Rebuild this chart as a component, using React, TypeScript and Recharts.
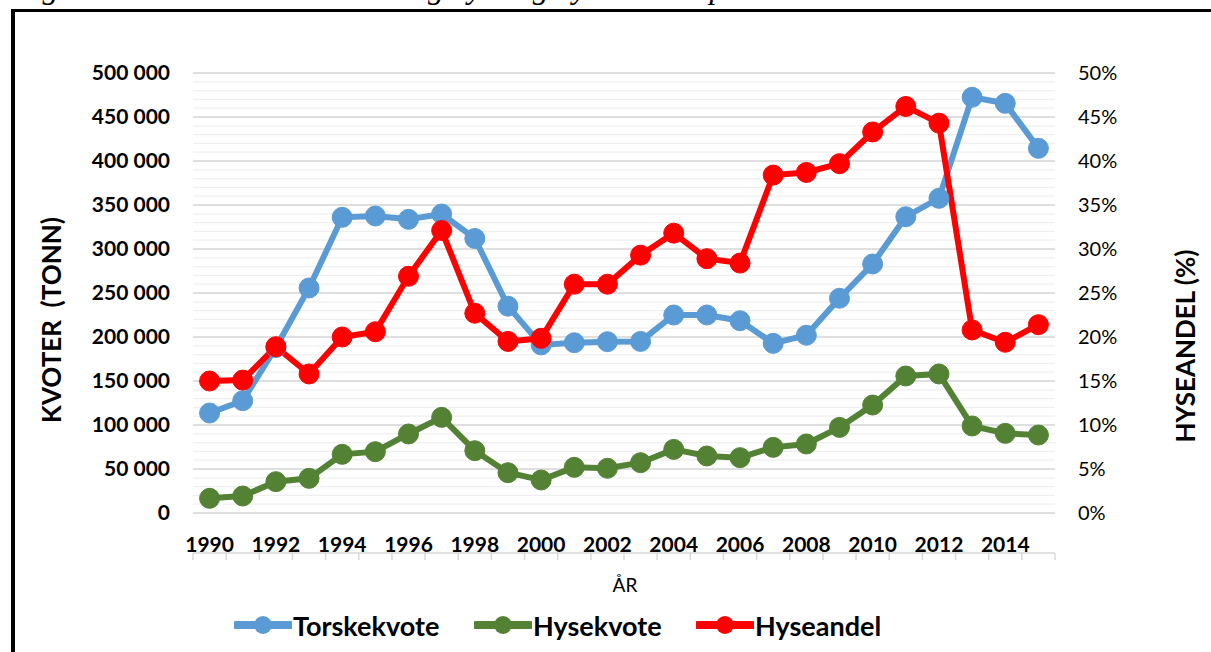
import React from "react";
import { LineChart, Line, XAxis, YAxis, CartesianGrid } from "recharts";

const years = [
  1990, 1991, 1992, 1993, 1994, 1995, 1996, 1997, 1998, 1999, 2000, 2001, 2002,
  2003, 2004, 2005, 2006, 2007, 2008, 2009, 2010, 2011, 2012, 2013, 2014, 2015,
];

// tonn
const torskekvote = [
  113600, 127600, 188000, 255700, 336000, 337500, 333700, 339800, 312000,
  235000, 191000, 193500, 194700, 195000, 225000, 225000, 218500, 192800,
  202000, 244000, 283000, 336700, 357600, 472400, 465500, 414400,
];

const hysekvote = [
  16700, 19300, 35600, 39400, 66700, 69700, 89800, 108700, 70800, 45800, 37500,
  51900, 50800, 57200, 72300, 64800, 62900, 74600, 78400, 97300, 122700, 155700,
  158000, 98900, 90500, 88600,
];

// prosent
const hyseandel = [
  15.0, 15.1, 18.9, 15.8, 20.0, 20.6, 26.9, 32.1, 22.7, 19.5, 19.85, 26.0, 26.0,
  29.3, 31.8, 28.9, 28.4, 38.4, 38.7, 39.7, 43.3, 46.2, 44.3, 20.8, 19.4, 21.4,
];

const leftTicks = [0, 50000, 100000, 150000, 200000, 250000, 300000, 350000, 400000, 450000, 500000];
const rightTicks = [0, 5, 10, 15, 20, 25, 30, 35, 40, 45, 50];
const yearLabels = [1990, 1992, 1994, 1996, 1998, 2000, 2002, 2004, 2006, 2008, 2010, 2012, 2014];

const seriesNames = ["Torskekvote", "Hysekvote", "Hyseandel"];
const colors = ["#5B9BD5", "#548235", "#FF0000"];

const data = years.map((year, i) => ({
  year,
  torsk: torskekvote[i],
  hyse: hysekvote[i],
  andel: hyseandel[i],
}));

// tick marks sit between the years, grid has minor lines every 10 000
const boundaries = [...years.map((y) => y - 0.5), 2015.5];
const minorTicks = Array.from({ length: 51 }, (_, i) => i * 10000);

const FONT = "Lato, 'Open Sans', sans-serif";

const fmtTonn = (v: number) =>
  v === 0 ? "0" : `${Math.floor(v / 1000)} ${String(v % 1000).padStart(3, "0")}`;

function YearTick(props: any) {
  const { x, y, payload } = props;
  return (
    <text x={x} y={y + 39} textAnchor="middle" fontFamily={FONT} fontWeight={700} fontSize={21} fill="#000">
      {payload.value}
    </text>
  );
}

function LegendItem({ name, color, left }: { name: string; color: string; left: number }) {
  return (
    <div style={{ position: "absolute", left, top: 610, height: 30, display: "flex", alignItems: "center" }}>
      <svg width={58} height={30}>
        <line x1={2} y1={15} x2={56} y2={15} stroke={color} strokeWidth={8} strokeLinecap="round" />
        <circle cx={29} cy={15} r={9} fill={color} />
      </svg>
      <span style={{ fontFamily: FONT, fontWeight: 700, fontSize: 27, color: "#000", marginLeft: 1 }}>{name}</span>
    </div>
  );
}

export default function App() {
  return (
    <div style={{ position: "absolute", left: 0, top: 0, width: 1211, height: 652, overflow: "hidden", background: "#fff" }}>
      <div
        style={{
          position: "absolute",
          left: 14,
          top: -29,
          fontFamily: "'Liberation Serif', serif",
          fontStyle: "italic",
          fontSize: 32,
          lineHeight: "32px",
          whiteSpace: "nowrap",
        }}
      >
        Figur 3. Totale kvoter av torsk og hyse og hyseandel i perioden 1990 til 2015
      </div>
      <div
        style={{
          position: "absolute",
          left: 11,
          top: 9,
          width: 1400,
          height: 800,
          borderLeft: "4px solid #000",
          borderTop: "3px solid #000",
          background: "#fff",
        }}
      />

      <div style={{ position: "absolute", left: 0, top: 0 }}>
        <LineChart width={1211} height={652} data={data} margin={{ top: 73, right: 36, bottom: 91, left: 0 }}>
          <CartesianGrid
            xAxisId="marks"
            yAxisId="left"
            vertical={false}
            horizontalValues={minorTicks}
            stroke="#efefef"
            strokeWidth={1.3}
          />
          <CartesianGrid xAxisId="marks" yAxisId="left" vertical={false} stroke="#d9d9d9" strokeWidth={1.5} />

          <XAxis
            xAxisId="marks"
            dataKey="year"
            type="number"
            domain={[1989.5, 2015.5]}
            ticks={boundaries}
            interval={0}
            tickFormatter={() => ""}
            tickSize={7}
            tickLine={{ stroke: "#d9d9d9", strokeWidth: 1.5 }}
            axisLine={{ stroke: "#d9d9d9", strokeWidth: 1.5 }}
            height={8}
          />
          <XAxis
            xAxisId="labels"
            dataKey="year"
            type="number"
            domain={[1989.5, 2015.5]}
            ticks={yearLabels}
            interval={0}
            axisLine={false}
            tickLine={false}
            tickSize={0}
            tickMargin={0}
            height={40}
            tick={<YearTick />}
            label={{
              content: () => (
                <text x={625} y={592} textAnchor="middle" fontFamily={FONT} fontSize={19} fill="#000">
                  ÅR
                </text>
              ),
            }}
          />

          <YAxis
            yAxisId="left"
            domain={[0, 500000]}
            ticks={leftTicks}
            interval={0}
            width={193}
            axisLine={false}
            tickLine={false}
            tickSize={0}
            tickMargin={23}
            tickFormatter={fmtTonn}
            tick={{ fontFamily: FONT, fontWeight: 700, fontSize: 21, fill: "#000" }}
            label={{
              content: () => (
                <text
                  x={51}
                  y={320}
                  transform="rotate(-90 51 320)"
                  textAnchor="middle"
                  dominantBaseline="central"
                  fontFamily={FONT}
                  fontWeight={700}
                  fontSize={26}
                  fill="#000"
                  style={{ whiteSpace: "pre" }}
                >
                  KVOTER  (TONN)
                </text>
              ),
            }}
          />
          <YAxis
            yAxisId="right"
            orientation="right"
            domain={[0, 50]}
            ticks={rightTicks}
            interval={0}
            width={120}
            axisLine={false}
            tickLine={false}
            tickSize={0}
            tickMargin={23}
            tickFormatter={(v: number) => `${v}%`}
            tick={{ fontFamily: FONT, fontSize: 20, fill: "#000" }}
            label={{
              content: () => (
                <text
                  x={1185}
                  y={346}
                  transform="rotate(-90 1185 346)"
                  textAnchor="middle"
                  dominantBaseline="central"
                  fontFamily={FONT}
                  fontWeight={700}
                  fontSize={26}
                  fill="#000"
                >
                  HYSEANDEL (%)
                </text>
              ),
            }}
          />

          <Line
            xAxisId="labels"
            yAxisId="left"
            dataKey="torsk"
            name={seriesNames[0]}
            stroke={colors[0]}
            strokeWidth={6}
            dot={{ r: 10, fill: colors[0], stroke: colors[0], strokeWidth: 1 }}
            isAnimationActive={false}
          />
          <Line
            xAxisId="labels"
            yAxisId="left"
            dataKey="hyse"
            name={seriesNames[1]}
            stroke={colors[1]}
            strokeWidth={6}
            dot={{ r: 10, fill: colors[1], stroke: colors[1], strokeWidth: 1 }}
            isAnimationActive={false}
          />
          <Line
            xAxisId="labels"
            yAxisId="right"
            dataKey="andel"
            name={seriesNames[2]}
            stroke={colors[2]}
            strokeWidth={6}
            dot={{ r: 10, fill: colors[2], stroke: colors[2], strokeWidth: 1 }}
            isAnimationActive={false}
          />
        </LineChart>
      </div>

      <LegendItem name={seriesNames[0]} color={colors[0]} left={234} />
      <LegendItem name={seriesNames[1]} color={colors[1]} left={474} />
      <LegendItem name={seriesNames[2]} color={colors[2]} left={696} />
    </div>
  );
}
